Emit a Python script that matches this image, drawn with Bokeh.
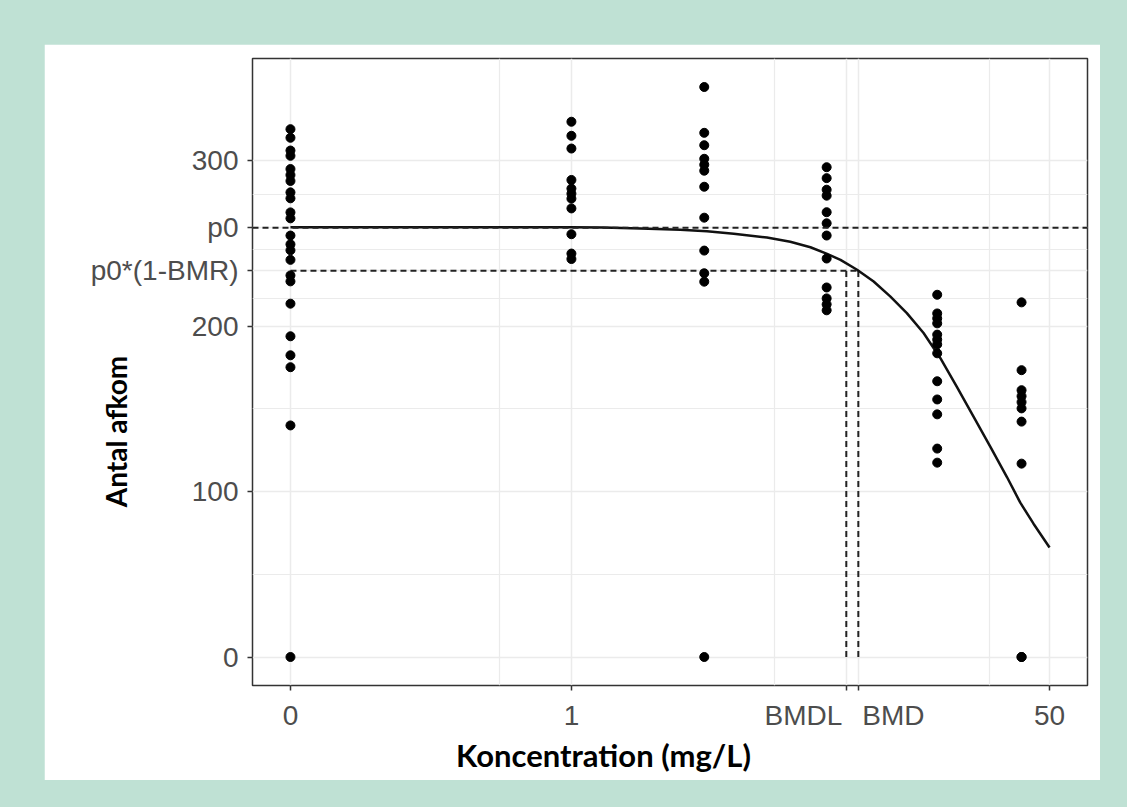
import numpy as np
from bokeh.plotting import figure
from bokeh.layouts import column
from bokeh.models import Range1d, FixedTicker, Span, Label
from bokeh.embed import file_html
from bokeh.resources import INLINE

# ---------------- data ----------------
dose_levels = [0, 1, 3.1, 8.4, 20.4, 40]
resp_d0 = [319.1, 313.9, 306.2, 303.0, 295.0, 291.4, 287.8, 280.9, 277.3, 268.8,
           265.2, 254.8, 249.5, 245.9, 240.1, 230.7, 227.1, 213.6, 193.9, 182.4,
           175.2, 140.0, 0]
resp_d1 = [323.6, 315.1, 307.4, 288.4, 283.2, 280.1, 277.1, 271.2, 255.6, 243.9, 240.6]
resp_d3 = [344.6, 316.9, 309.4, 301.2, 297.6, 294.0, 284.3, 265.6, 245.7, 232.0, 226.9, 0]
resp_d8 = [296.1, 289.5, 282.5, 278.9, 268.9, 262.2, 254.8, 240.9, 223.4, 216.8, 213.2, 209.6]
resp_d20 = [219.0, 207.7, 204.7, 201.7, 194.9, 191.9, 189.0, 183.6, 166.7, 155.7,
            146.7, 126.0, 117.5]
resp_d40 = [214.4, 173.4, 161.3, 157.7, 154.1, 150.3, 142.3, 116.9, 0, 0]
responses = [resp_d0, resp_d1, resp_d3, resp_d8, resp_d20, resp_d40]

curve_dose = [0, 1, 1.32, 1.82, 2.54, 3.17, 3.95, 5.18, 6.26, 7.37, 8.43, 9.39, 10.73,
              12.26, 14.0, 16.0, 18.29, 20.9, 23.9, 27.3, 31.2, 35.6, 39.6, 44.0, 50]
curve_resp = [259.8, 259.8, 259.6, 259.0, 258.3, 257.4, 255.9, 253.6, 251.0, 247.7,
              243.7, 240.1, 234.1, 227.0, 218.0, 207.9, 195.9, 180.8, 163.2, 145.2,
              127.0, 108.8, 93.3, 80.6, 66.2]

p0 = 259.5
BMR = 0.1
BMDL = 9.84
BMD = 10.84
x_max = 50
x_minor_breaks = [0.51, 5.5, 30.9]
y_breaks = [0, 100, 200, 300]

x_labels = ["0", "1", "BMDL", "BMD", "50"]

# pseudo-log x transform
OFFSET = 0.12
def tr(d):
    return np.log1p(np.asarray(d, dtype=float) / OFFSET)

# ---------------- figure ----------------
GREEN = "#bfe1d4"
W, H = 1056, 736
ML, MR, MT, MB = 208, 13, 14, 95
TICK_FONT = "Liberation Sans"
TICK_SIZE = "28px"
TICK_COLOR = "#4d4d4d"
NBSP = "\u00a0"

xt0, xt1 = float(tr(0)), float(tr(x_max))
xpad = 0.05 * (xt1 - xt0)
all_y = [v for r in responses for v in r]
ylo, yhi = min(all_y), max(all_y)
ypad = 0.05 * (yhi - ylo)
x_range = Range1d(xt0 - xpad, xt1 + xpad)
y_range = Range1d(ylo - ypad, yhi + ypad)

p = figure(width=W, height=H, output_backend="svg", toolbar_location=None,
           x_range=x_range, y_range=y_range,
           min_border_left=ML, min_border_right=MR, min_border_top=MT, min_border_bottom=MB,
           background_fill_color="white", border_fill_color="white")
p.margin = (44, 27, 27, 44)

FW, FH = W - ML - MR, H - MT - MB
def px2x(px):  # px relative to figure left
    return x_range.start + (px - ML) / FW * (x_range.end - x_range.start)
def px2y(py):  # py relative to figure top
    return y_range.end - (py - MT) / FH * (y_range.end - y_range.start)

p.outline_line_color = "#333333"
p.outline_line_width = 1.5

# y axis ticks
y_bmr = p0 * (1 - BMR)
y_ticks = sorted(y_breaks + [y_bmr, p0])
y_minor = [(a + b) / 2 for a, b in zip(y_ticks[:-1], y_ticks[1:])]
p.yaxis.ticker = FixedTicker(ticks=y_ticks, minor_ticks=y_minor)
p.yaxis.major_label_overrides = {y_bmr: "p0*(1-BMR)", p0: "p0"}

# x axis ticks; BMDL right-aligned and BMD left-aligned to their ticks (nbsp padding)
x_tick_vals = [float(v) for v in tr([0, 1, BMDL, BMD, x_max])]
p.xaxis.ticker = FixedTicker(ticks=x_tick_vals, minor_ticks=[float(v) for v in tr(x_minor_breaks)])
p.xaxis.major_label_overrides = {x_tick_vals[0]: x_labels[0],
                                 x_tick_vals[1]: x_labels[1],
                                 x_tick_vals[2]: x_labels[2] + NBSP * 11,
                                 x_tick_vals[3]: NBSP * 9 + x_labels[3],
                                 x_tick_vals[4]: x_labels[4]}

for ax in (p.xaxis, p.yaxis):
    ax.axis_line_color = None
    ax.major_tick_line_color = "#333333"
    ax.major_tick_line_width = 1.5
    ax.major_tick_out = 5
    ax.major_tick_in = 0
    ax.minor_tick_line_color = None
    ax.major_label_text_font = TICK_FONT
    ax.major_label_text_font_size = TICK_SIZE
    ax.major_label_text_color = TICK_COLOR
p.xaxis.major_label_standoff = 9
p.yaxis.major_label_standoff = 9

for g in (p.xgrid, p.ygrid):
    g.grid_line_color = "#ebebeb"
    g.grid_line_width = 1.5
    g.minor_grid_line_color = "#ebebeb"
    g.minor_grid_line_width = 1.2

# dashed reference lines
DASH = "6 4"
p.add_layout(Span(location=p0, dimension="width", line_color="#222222",
                  line_width=2, line_dash=DASH))
p.segment(x0=[float(tr(0))], y0=[y_bmr], x1=[float(tr(BMD))], y1=[y_bmr],
          line_color="#222222", line_width=2, line_dash=DASH)
p.segment(x0=[float(tr(BMDL)), float(tr(BMD))], y0=[0, 0],
          x1=[float(tr(BMDL)), float(tr(BMD))], y1=[y_bmr, y_bmr],
          line_color="#222222", line_width=2, line_dash=DASH)

# fitted curve
p.line(tr(curve_dose), curve_resp, line_color="#111111", line_width=2.5)

# observations
xs, ys = [], []
for d, r in zip(dose_levels, responses):
    xs += [float(tr(d))] * len(r)
    ys += r
p.scatter(xs, ys, size=9, fill_color="black", line_color="black")

# axis titles (in side panels so they are not clipped to the frame)
p.add_layout(Label(x=px2x(603 - 44), y=px2y(754 - 44), text="Koncentration (mg/L)",
                   text_align="center", text_baseline="middle", text_font="Lato",
                   text_font_style="bold", text_font_size="31px", text_color="black"), "below")
p.add_layout(Label(x=px2x(115 - 44), y=px2y(431 - 44), text="Antal afkom", angle=np.pi / 2,
                   text_align="center", text_baseline="middle", text_font="Lato",
                   text_font_style="bold", text_font_size="28px", text_color="black"), "left")

layout = column(p, styles={"background-color": GREEN})
open("out.html", "w").write(file_html(layout, INLINE))
